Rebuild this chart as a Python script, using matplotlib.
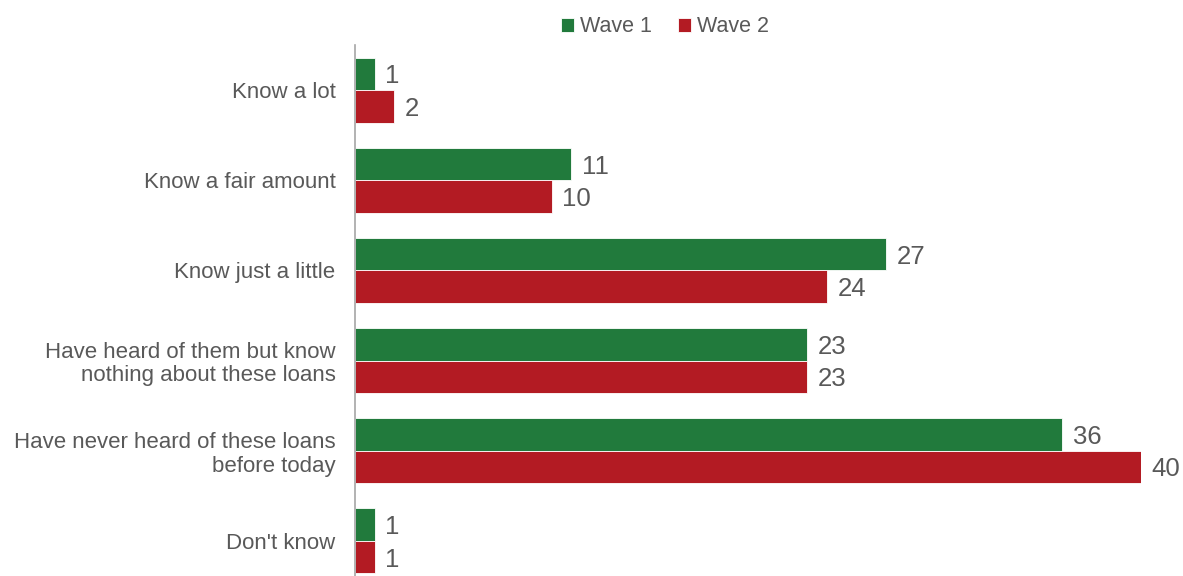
import matplotlib.pyplot as plt
import numpy as np

plt.rcParams['font.family'] = ['Liberation Sans', 'DejaVu Sans']

categories = ["Know a lot", "Know a fair amount", "Know just a little",
              "Have heard of them but know\nnothing about these loans",
              "Have never heard of these loans\nbefore today", "Don't know"]
wave1 = [1, 11, 27, 23, 36, 1]
wave2 = [2, 10, 24, 23, 40, 1]

green = '#217a3c'
red = '#b31b23'
grey = '#595959'

fig = plt.figure(figsize=(11.83, 5.76), dpi=100)
ax = fig.add_axes([355 / 1183, -10 / 576, 786 / 1183, 541 / 576])

y = np.arange(len(categories))
h = 0.36
b1 = ax.barh(y - h / 2, wave1, height=h, color=green, edgecolor='white',
             linewidth=0.6, label='Wave 1')
b2 = ax.barh(y + h / 2, wave2, height=h, color=red, edgecolor='white',
             linewidth=0.6, label='Wave 2')

for bars, vals in ((b1, wave1), (b2, wave2)):
    for bar, v in zip(bars, vals):
        ax.text(v + 0.55, bar.get_y() + bar.get_height() / 2, str(v),
                va='center_baseline', ha='left', fontsize=18.5, color=grey,
                clip_on=False)

ax.set_xlim(0, 40)
ax.set_ylim(len(categories) - 0.5, -0.5)
ax.set_yticks(y)
ax.set_yticklabels(categories, fontsize=16, color=grey, linespacing=1.15)
ax.tick_params(axis='y', length=0, pad=14)
ax.set_xticks([])
for side in ('top', 'right', 'bottom'):
    ax.spines[side].set_visible(False)
ax.spines['left'].set_color('#a6a6a6')
ax.spines['left'].set_linewidth(1.2)

fig.legend(loc='upper center', bbox_to_anchor=(0.562, 1.005), ncol=2,
           frameon=False, fontsize=15.5, handlelength=0.6, handleheight=0.6,
           handletextpad=0.3, columnspacing=1.2, labelcolor=grey)

fig.savefig('out.png', dpi=100)
